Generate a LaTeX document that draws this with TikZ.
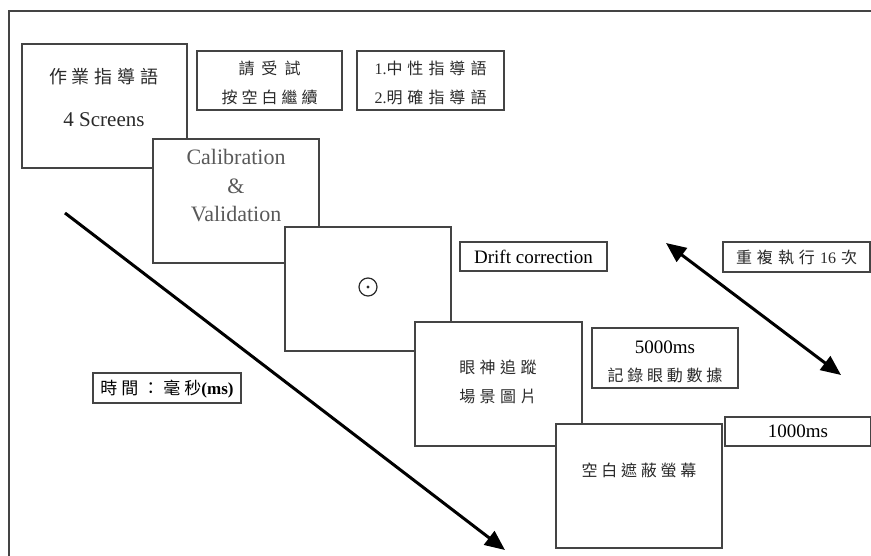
\documentclass[tikz,border=0pt]{standalone}
\usepackage{fontspec}
\setmainfont{Liberation Serif}
\newfontfamily\cjk{Noto Sans CJK TC}
\usetikzlibrary{arrows.meta}
\def\spacedaux#1{#1\futurelet\next\spacedchk}
\def\spacedchk{\ifx\next\relax\expandafter\spacedend\else\sgap\expandafter\spacedaux\fi}
\def\spacedend\relax{}
\newcommand\spaced[2]{\def\sgap{\kern#1}\spacedaux#2\relax}
\definecolor{ink}{HTML}{2A2A2A}
\definecolor{edge}{HTML}{444444}
\tikzset{
  scr/.style={draw=edge, line width=1.3pt, fill=white, inner sep=0pt},
  lbl/.style={draw=edge, line width=1.3pt, fill=white, inner sep=0pt},
  txt/.style={text=ink, inner sep=0pt, anchor=center},
  bigarrow/.style={line width=3pt, black, -{Triangle[length=20pt,width=17pt]}},
  dblarrow/.style={line width=3pt, black, {Triangle[length=20pt,width=17pt]}-{Triangle[length=20pt,width=17pt]}}
}
\begin{document}
\begin{tikzpicture}[x=1pt,y=-1pt]
\useasboundingbox (0,0) rectangle (871,556);
% outer frame
\draw[edge, line width=1.3pt] (9,556) -- (9,11) -- (871,11);
% screens
\node[scr, minimum width=165pt, minimum height=124pt] (b1) at (104.5,106) {};
\node[txt, font=\fontsize{18}{20}\selectfont\cjk] (t1a) at (104,77) {\spaced{5pt}{作業指導語}};
\node[txt, font=\fontsize{21}{24}\selectfont] (t1b) at (104,120) {4 Screens};
\node[lbl, minimum width=145pt, minimum height=59pt] (ins) at (269.5,80.5) {};
\node[txt, font=\fontsize{16}{18}\selectfont\cjk] at (269.5,68) {\spaced{7pt}{請受試}};
\node[txt, font=\fontsize{16}{18}\selectfont\cjk] at (269.5,97) {\spaced{4pt}{按空白繼續}};
\node[lbl, minimum width=147pt, minimum height=59pt] (cond) at (430.5,80.5) {};
\node[txt, font=\fontsize{16}{18}\selectfont] at (430.5,68) {1.{\cjk\spaced{5pt}{中性指導語}}};
\node[txt, font=\fontsize{16}{18}\selectfont] at (430.5,97) {2.{\cjk\spaced{5pt}{明確指導語}}};
\node[scr, minimum width=166pt, minimum height=124pt] (cal) at (236,201) {};
\node[txt, text=black!65, font=\fontsize{22}{26}\selectfont] at (236,157) {Calibration};
\node[txt, text=black!65, font=\fontsize{22}{26}\selectfont] at (236,186) {\&};
\node[txt, text=black!65, font=\fontsize{22}{26}\selectfont] at (236,214) {Validation};
\node[scr, minimum width=166pt, minimum height=124pt] (drift) at (368,289) {};
\draw[ink, line width=1.2pt] (drift.center) ++(0,-2) circle[radius=9pt];
\fill[ink] (drift.center) ++(0,-2) circle[radius=1.6pt];
\node[lbl, minimum width=147pt, minimum height=29pt, font=\fontsize{19}{22}\selectfont, text=black] (dc) at (533.5,256.5) {Drift correction};
\node[lbl, minimum width=147pt, minimum height=30pt] (rep) at (796.5,257) {};
\node[txt, font=\fontsize{16}{18}\selectfont] at (796.5,257) {{\cjk\spaced{5pt}{重複執行}}\kern5pt 16\kern5pt{\cjk 次}};
\node[scr, minimum width=167pt, minimum height=124pt] (eye) at (498.5,384) {};
\node[txt, font=\fontsize{16}{18}\selectfont\cjk] at (498,367) {\spaced{4.5pt}{眼神追蹤}};
\node[txt, font=\fontsize{16}{18}\selectfont\cjk] at (498,396) {\spaced{4.5pt}{場景圖片}};
\node[lbl, minimum width=146pt, minimum height=60pt] (ms5) at (665,358) {};
\node[txt, font=\fontsize{19}{22}\selectfont, text=black] at (665,347) {5000ms};
\node[txt, font=\fontsize{16}{18}\selectfont\cjk] at (665,375) {\spaced{3.8pt}{記錄眼動數據}};
\node[scr, minimum width=166pt, minimum height=124pt] (blank) at (639,486) {};
\node[txt, font=\fontsize{16}{18}\selectfont\cjk] at (639,470) {\spaced{3.8pt}{空白遮蔽螢幕}};
\node[lbl, minimum width=146pt, minimum height=29pt, font=\fontsize{19}{22}\selectfont, text=black] (ms1) at (798,431.5) {1000ms};
\node[lbl, minimum width=148pt, minimum height=30pt] (time) at (167,388) {};
\node[txt, font=\fontsize{17}{19}\selectfont, text=black] at (167,389) {{\cjk\spaced{4pt}{時間：毫秒}}\textbf{(ms)}};
% arrows
\coordinate (ta) at (65,213);
\coordinate (tb) at (505,550);
\draw[bigarrow] (ta) -- (tb);
\coordinate (ra) at (666,243);
\coordinate (rb) at (841,375);
\draw[dblarrow] (ra) -- (rb);
\end{tikzpicture}
\end{document}
